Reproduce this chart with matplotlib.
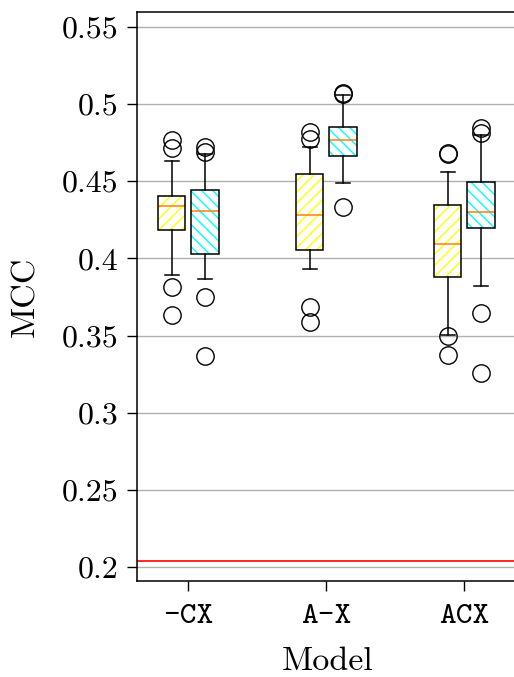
import matplotlib
matplotlib.use("Agg")
import matplotlib.pyplot as plt
from matplotlib.patches import PathPatch

plt.rcParams["font.family"] = "serif"
plt.rcParams["font.serif"] = ["cmr10"]
plt.rcParams["axes.unicode_minus"] = False
plt.rcParams["hatch.linewidth"] = 1.0

# data (box stats per model, two variants each)
models = ["-CX", "A-X", "ACX"]
colors = ["yellow", "cyan"]
hatches = ["///", "\\\\\\"]

q1 = [[0.4184, 0.4029], [0.4057, 0.4664], [0.3880, 0.4196]]
med = [[0.4340, 0.4307], [0.4281, 0.4766], [0.4096, 0.4301]]
q3 = [[0.4405, 0.4445], [0.4549, 0.4850], [0.4346, 0.4494]]
whislo = [[0.3893, 0.3865], [0.3930, 0.4487], [0.3505, 0.3823]]
whishi = [[0.4631, 0.4675], [0.4724, 0.5062], [0.4563, 0.4800]]
fliers = [
    [[0.4768, 0.4716, 0.3815, 0.3634], [0.4724, 0.4692, 0.3752, 0.3370]],
    [[0.4821, 0.4772, 0.3687, 0.3588], [0.5074, 0.5068, 0.4331]],
    [[0.4682, 0.4676, 0.3497, 0.3374], [0.4843, 0.4810, 0.3644, 0.3255]],
]
baseline = 0.2040

yticks = [0.2, 0.25, 0.3, 0.35, 0.4, 0.45, 0.5, 0.55]
ytick_labels = ["0.2", "0.25", "0.3", "0.35", "0.4", "0.45", "0.5", "0.55"]

fig = plt.figure(figsize=(5.14, 6.77), dpi=100)
ax = fig.add_axes([0.2665, 0.1418, 0.74, 0.8405])

offset = 0.12
for j in range(2):
    stats = []
    for i in range(len(models)):
        stats.append(dict(q1=q1[i][j], med=med[i][j], q3=q3[i][j],
                          whislo=whislo[i][j], whishi=whishi[i][j],
                          fliers=fliers[i][j]))
    pos = [i + 1 + (2 * j - 1) * offset for i in range(len(models))]
    bp = ax.bxp(stats, positions=pos, widths=0.2, patch_artist=True,
                showfliers=True,
                medianprops=dict(color="#ff7f0e", lw=1.1),
                whiskerprops=dict(color="black", lw=1.1),
                capprops=dict(color="black", lw=1.1),
                flierprops=dict(marker="o", markerfacecolor="none",
                                markeredgecolor="black", markersize=12.5,
                                markeredgewidth=1.0))
    for box in bp["boxes"]:
        box.set_facecolor("white")
        box.set_edgecolor(colors[j])
        box.set_hatch(hatches[j])
        box.set_linewidth(0)
        ax.add_patch(PathPatch(box.get_path(), fill=False,
                               edgecolor="black", lw=1.1, zorder=box.get_zorder() + 0.1))

ax.axhline(baseline, color="red", lw=1.2, zorder=1)

ax.set_ylim(0.1909, 0.5597)
ax.set_xlim(0.629, 3.385)
ax.set_yticks(yticks)
ax.set_yticklabels(ytick_labels)
ax.set_xticks([1, 2, 3])
ax.set_xticklabels(models, fontfamily="cmtt10")
ax.yaxis.grid(True, color="#b0b0b0", lw=1.0)
ax.set_axisbelow(True)
ax.spines["right"].set_visible(False)
for s in ["left", "top", "bottom"]:
    ax.spines[s].set_linewidth(1.1)
ax.tick_params(labelsize=23, length=7.5, width=1.0)
ax.tick_params(axis="y", pad=6)
ax.tick_params(axis="x", pad=9)
ax.set_xlabel("Model", fontsize=24.5, labelpad=12)
ax.set_ylabel("MCC", fontsize=24.5, labelpad=15)

fig.savefig("out.png", dpi=100)
